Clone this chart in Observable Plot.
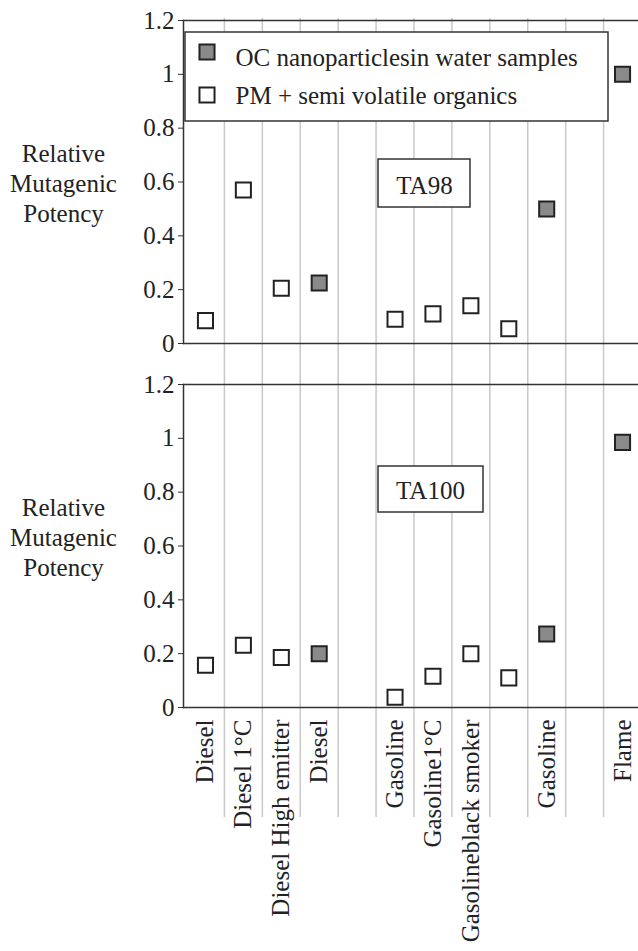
<!DOCTYPE html>
<html>
<head>
<meta charset="utf-8">
<script src="https://cdn.jsdelivr.net/npm/d3@7"></script>
<script src="https://cdn.jsdelivr.net/npm/@observablehq/plot@0.6"></script>
<style>
  body { margin: 0; background: #fff; }
  #chart svg, #chart svg text { font-family: "Liberation Serif", "Times New Roman", serif; }
</style>
</head>
<body>
<div id="chart"></div>
<script>
// Sample columns along the x axis (blank entries are unlabeled columns)
const columns = ["Diesel", "Diesel 1°C", "Diesel High emitter", "Diesel", "", "Gasoline",
  "Gasoline1°C", "Gasolineblack smoker", "", "Gasoline", "", "Flame"];
// Sample type per column: OC = nanoparticles in water, PM = PM + semi volatile organics
const sampleType = ["PM", "PM", "PM", "OC", null, "PM", "PM", "PM", "PM", "OC", null, "OC"];
// Relative mutagenic potency per column, Salmonella strain TA98
const ta98 = [0.085, 0.57, 0.205, 0.225, null, 0.09, 0.11, 0.14, 0.055, 0.5, null, 1.0];
// Relative mutagenic potency per column, Salmonella strain TA100
const ta100 = [0.157, 0.231, 0.186, 0.2, null, 0.038, 0.116, 0.2, 0.11, 0.273, null, 0.985];
const panels = ["TA98", "TA100"];
const yTicks = [0, 0.2, 0.4, 0.6, 0.8, 1, 1.2];
const legendTypes = ["OC", "PM"];
const legendLabels = ["OC nanoparticlesin water samples", "PM + semi volatile organics"];
const yLabel = "Relative\nMutagenic\nPotency";

const serif = '"Liberation Serif", "Times New Roman", serif';
const fills = {OC: "#8a8a8a", PM: "#ffffff"};
const ink = "#222";
const axisInk = "#333";
const gridInk = "#c8c8c8";

// Long-format rows: one per plotted marker
const series = {TA98: ta98, TA100: ta100};
const rows = [];
for (const panel of panels) {
  series[panel].forEach((v, i) => {
    if (v != null) rows.push({panel, col: i + 0.5, value: v, type: sampleType[i]});
  });
}
const colCenters = columns.map((_, i) => i + 0.5);
const colBounds = d3.range(1, columns.length);

const marker = {symbol: "square", r: 8.5, stroke: ink, strokeWidth: 2};
const label = {fill: ink, fontFamily: serif, lineAnchor: "middle"};

// Legend (top panel only)
const legendMarks = legendTypes.flatMap((t, k) => [
  Plot.dot([{panel: "TA98"}], {fy: "panel", frameAnchor: "top-left", dx: 23.5, dy: 31.5 + 43 * k,
    ...marker, fill: fills[t]}),
  Plot.text([{panel: "TA98"}], {fy: "panel", frameAnchor: "top-left", dx: 52, dy: 37.5 + 38 * k,
    text: () => legendLabels[k], textAnchor: "start", ...label})
]);

const chart = Plot.plot({
  width: 638,
  height: 951,
  marginTop: 20,
  marginBottom: 243,
  marginLeft: 183,
  marginRight: 0,
  style: {fontFamily: serif, fontSize: "25px", color: ink, background: "white"},
  x: {domain: [0, columns.length], range: [186, 641]},
  y: {domain: [yTicks[0], yTicks[yTicks.length - 1]]},
  fy: {domain: panels, axis: null, paddingInner: 0.1125, paddingOuter: 0},
  marks: [
    // column separators: continue through the gap between panels and down beside the labels
    Plot.ruleX(colBounds, {x: d => d, fy: () => "TA98", stroke: gridInk, strokeWidth: 1.5, insetTop: -2, insetBottom: -42}),
    Plot.ruleX(colBounds, {x: d => d, fy: () => "TA100", stroke: gridInk, strokeWidth: 1.5, insetBottom: -110}),
    Plot.ruleY([yTicks[0], yTicks[yTicks.length - 1]], {stroke: axisInk, strokeWidth: 1.5}),
    Plot.frame({anchor: "left", stroke: axisInk, strokeWidth: 1.5}),
    Plot.axisY(yTicks, {tickSize: 5, tickPadding: 4, tickFormat: d => `${d}`, label: null, stroke: axisInk,
      fill: ink, fontFamily: serif}),
    Plot.axisX(colCenters, {tickSize: 0, tickPadding: 12, tickRotate: -90, label: null, fill: ink, fontFamily: serif,
      tickFormat: t => columns[Math.floor(t)]}),
    // y labels for each panel
    Plot.text([{panel: "TA98"}], {fy: "panel", text: () => yLabel, frameAnchor: "left", dx: -120, dy: 0,
      textAnchor: "middle", lineHeight: 1.2, ...label}),
    Plot.text([{panel: "TA100"}], {fy: "panel", text: () => yLabel, frameAnchor: "left", dx: -120, dy: -9.5,
      textAnchor: "middle", lineHeight: 1.2, ...label}),
    // legend box
    Plot.rect([{panel: "TA98"}], {fy: "panel", insetLeft: 2, insetRight: 30, insetTop: 12, insetBottom: 222,
      fill: "white", stroke: axisInk, strokeWidth: 1.5}),
    ...legendMarks,
    // strain labels in boxes
    Plot.rect([{panel: "TA98"}], {fy: "panel", insetLeft: 195, insetRight: 168, insetTop: 139, insetBottom: 136,
      fill: "white", stroke: axisInk, strokeWidth: 1.5}),
    Plot.text([{panel: "TA98"}], {fy: "panel", text: "panel", frameAnchor: "top-left", dx: 241, dy: 165,
      textAnchor: "middle", ...label}),
    Plot.rect([{panel: "TA100"}], {fy: "panel", insetLeft: 195, insetRight: 155, insetTop: 82, insetBottom: 195,
      fill: "white", stroke: axisInk, strokeWidth: 1.5}),
    Plot.text([{panel: "TA100"}], {fy: "panel", text: "panel", frameAnchor: "top-left", dx: 247, dy: 106,
      textAnchor: "middle", ...label}),
    // data markers
    Plot.dot(rows, {x: "col", y: "value", fy: "panel", ...marker, fill: d => fills[d.type]})
  ]
});
document.getElementById("chart").append(chart);
</script>
</body>
</html>
